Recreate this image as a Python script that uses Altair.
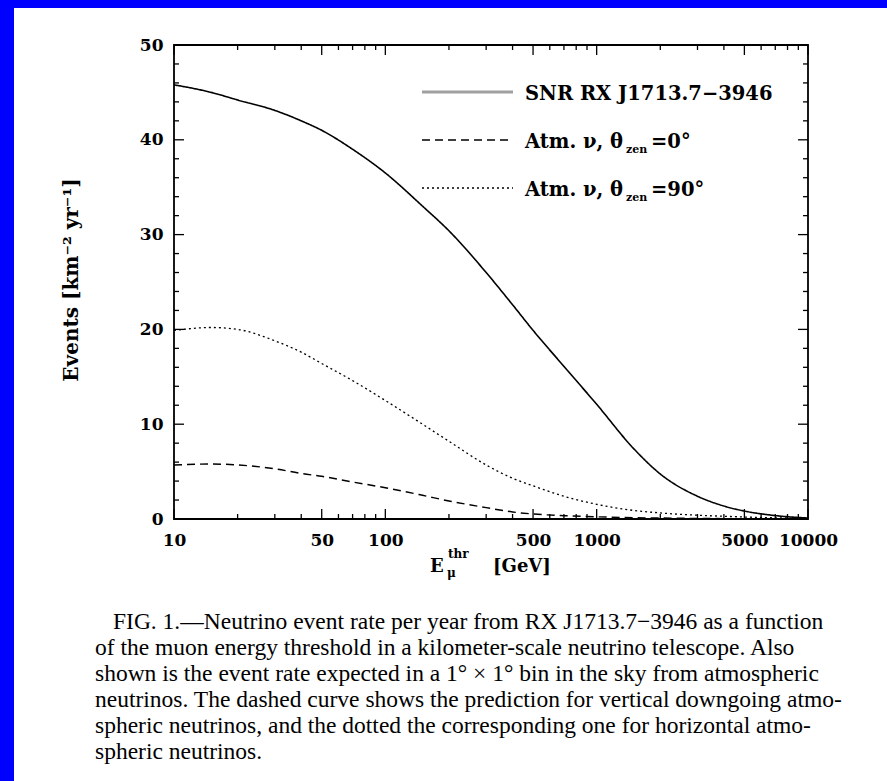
import altair as alt
import pandas as pd

# ---------------- data ----------------
energy = [10, 15, 20, 30, 40, 50, 70, 100, 150, 200, 300, 400, 500, 700,
          1000, 1500, 2000, 3000, 4000, 5000, 7000, 10000]
snr = [45.8, 45.0, 44.2, 43.1, 42.0, 41.0, 39.0, 36.5, 33.0, 30.4, 26.0, 22.6,
       19.9, 16.1, 12.1, 7.4, 4.75, 2.4, 1.37, 0.84, 0.36, 0.1]
atm90 = [19.9, 20.2, 20.0, 18.8, 17.6, 16.4, 14.6, 12.5, 10.0, 8.2, 5.7, 4.3,
         3.5, 2.4, 1.55, 0.9, 0.64, 0.4, 0.29, 0.21, 0.13, 0.07]
atm0 = [5.7, 5.8, 5.7, 5.3, 4.8, 4.5, 3.9, 3.3, 2.5, 1.9, 1.2, 0.74,
        0.53, 0.35, 0.23, 0.14, 0.1, 0.06, 0.04, 0.03, 0.02, 0.01]

series_names = ["snr", "atm0", "atm90"]
legend_main = ["SNR RX J1713.7\u22123946", "Atm. \u03bd, \u03b8", "Atm. \u03bd, \u03b8"]
legend_sub = ["", "zen", "zen"]
legend_tail = ["", "=0\u00b0", "=90\u00b0"]

x_major = [10, 50, 100, 500, 1000, 5000, 10000]
x_minor = [20, 30, 40, 60, 70, 80, 90, 200, 300, 400, 600, 700, 800, 900,
           2000, 3000, 4000, 6000, 7000, 8000, 9000]
y_major = [0, 10, 20, 30, 40, 50]
y_minor = [2, 4, 6, 8, 12, 14, 16, 18, 22, 24, 26, 28, 32, 34, 36, 38,
           42, 44, 46, 48]

caption_first = "FIG. 1.\u2014Neutrino event rate per year from RX J1713.7\u22123946 as a function"
caption_rest = [
    "of the muon energy threshold in a kilometer-scale neutrino telescope. Also",
    "shown is the event rate expected in a 1\u00b0 \u00d7 1\u00b0 bin in the sky from atmospheric",
    "neutrinos. The dashed curve shows the prediction for vertical downgoing atmo-",
    "spheric neutrinos, and the dotted the corresponding one for horizontal atmo-",
    "spheric neutrinos.",
]

# ---------------- layout ----------------
W, H = 634, 474
PAD = {"left": 174, "top": 45, "right": 79, "bottom": 262}
SERIF = "DejaVu Serif"
TIMES = "Liberation Serif"

xscale = alt.Scale(type="log", domain=[10, 10000])
yscale = alt.Scale(domain=[0, 50], nice=False, zero=False)
xaxis = alt.Axis(values=x_major, format="d", ticks=False, domain=False,
                 grid=False, labelFlush=False, labelOverlap=False,
                 labelPadding=13, labelFont=SERIF, labelFontSize=17,
                 labelFontWeight="bold", labelColor="black", title=None)
yaxis = alt.Axis(values=y_major, ticks=False, domain=False, grid=False,
                 labelFlush=False, labelOverlap=False, labelPadding=11,
                 labelFont=SERIF, labelFontSize=17, labelFontWeight="bold",
                 labelColor="black", title=None)

rows = []
for name, vals in zip(series_names, [snr, atm0, atm90]):
    for e, v in zip(energy, vals):
        rows.append({"E": e, "v": v, "s": name})
curves_df = pd.DataFrame(rows)

dash_scale = alt.Scale(domain=series_names, range=[[1, 0], [8, 5], [2, 3]])
width_scale = alt.Scale(domain=series_names, range=[1.6, 1.3, 1.3])

curves = alt.Chart(curves_df).mark_line(color="black", interpolate="monotone").encode(
    x=alt.X("E:Q", scale=xscale, axis=xaxis),
    y=alt.Y("v:Q", scale=yscale, axis=yaxis),
    strokeDash=alt.StrokeDash("s:N", scale=dash_scale, legend=None),
    strokeWidth=alt.StrokeWidth("s:N", scale=width_scale, legend=None),
    detail="s:N",
)

one = pd.DataFrame({"k": [0]})

# blue frame (top and left)
frame_left = alt.Chart(one).mark_rect(color="#0000ff").encode(
    x=alt.value(-PAD["left"]), x2=alt.value(-PAD["left"] + 14),
    y=alt.value(-PAD["top"]), y2=alt.value(H + PAD["bottom"]))
frame_top = alt.Chart(one).mark_rect(color="#0000ff").encode(
    x=alt.value(-PAD["left"]), x2=alt.value(W + PAD["right"]),
    y=alt.value(-PAD["top"]), y2=alt.value(-PAD["top"] + 8))

tick_layers = []
for vals, ln in [(x_major, 10), (x_minor, 5)]:
    d = pd.DataFrame({"E": vals})
    tick_layers.append(alt.Chart(d).mark_rule(color="black", strokeWidth=1.3).encode(
        x=alt.X("E:Q", scale=xscale, axis=xaxis), y=alt.value(H), y2=alt.value(H - ln)))
    tick_layers.append(alt.Chart(d).mark_rule(color="black", strokeWidth=1.3).encode(
        x=alt.X("E:Q", scale=xscale, axis=xaxis), y=alt.value(0), y2=alt.value(ln)))
for vals, ln in [(y_major, 10), (y_minor, 5)]:
    d = pd.DataFrame({"v": vals})
    tick_layers.append(alt.Chart(d).mark_rule(color="black", strokeWidth=1.3).encode(
        y=alt.Y("v:Q", scale=yscale, axis=yaxis), x=alt.value(0), x2=alt.value(ln)))
    tick_layers.append(alt.Chart(d).mark_rule(color="black", strokeWidth=1.3).encode(
        y=alt.Y("v:Q", scale=yscale, axis=yaxis), x=alt.value(W), x2=alt.value(W - ln)))

box = alt.Chart(one).mark_rect(fill=None, stroke="black", strokeWidth=1.8).encode(
    x=alt.value(0), x2=alt.value(W), y=alt.value(0), y2=alt.value(H))

# legend
leg_layers = []
leg_styles = [dict(color="#a0a0a0", strokeWidth=3),
              dict(color="black", strokeWidth=1.3, strokeDash=[8, 5]),
              dict(color="black", strokeWidth=1.3, strokeDash=[2, 3])]
for i in range(3):
    yl = 47 + 48 * i
    leg_layers.append(alt.Chart(one).mark_rule(**leg_styles[i]).encode(
        x=alt.value(248), x2=alt.value(339), y=alt.value(yl)))
    leg_layers.append(alt.Chart(one).mark_text(
        align="left", baseline="alphabetic", font=SERIF, fontSize=19.5,
        fontWeight="bold", color="black").encode(
        x=alt.value(351), y=alt.value(yl + 8), text=alt.value(legend_main[i])))
    if legend_sub[i]:
        leg_layers.append(alt.Chart(one).mark_text(
            align="left", baseline="alphabetic", font=SERIF, fontSize=11,
            fontWeight="bold", color="black").encode(
            x=alt.value(452), y=alt.value(yl + 13), text=alt.value(legend_sub[i])))
        leg_layers.append(alt.Chart(one).mark_text(
            align="left", baseline="alphabetic", font=SERIF, fontSize=19.5,
            fontWeight="bold", color="black").encode(
            x=alt.value(477), y=alt.value(yl + 8), text=alt.value(legend_tail[i])))

# axis titles
title_layers = [
    alt.Chart(one).mark_text(angle=270, align="center", baseline="middle",
                             font=SERIF, fontSize=20, fontWeight="bold",
                             color="black").encode(
        x=alt.value(-102), y=alt.value(235),
        text=alt.value("Events [km\u207b\u00b2 yr\u207b\u00b9]")),
    alt.Chart(one).mark_text(align="left", baseline="alphabetic", font=SERIF,
                             fontSize=18, fontWeight="bold", color="black").encode(
        x=alt.value(256), y=alt.value(527), text=alt.value("E")),
    alt.Chart(one).mark_text(align="left", baseline="alphabetic", font=SERIF,
                             fontSize=12, fontWeight="bold", color="black").encode(
        x=alt.value(273), y=alt.value(532), text=alt.value("\u03bc")),
    alt.Chart(one).mark_text(align="left", baseline="alphabetic", font=SERIF,
                             fontSize=12, fontWeight="bold", color="black").encode(
        x=alt.value(274), y=alt.value(513), text=alt.value("thr")),
    alt.Chart(one).mark_text(align="left", baseline="alphabetic", font=SERIF,
                             fontSize=18, fontWeight="bold", color="black").encode(
        x=alt.value(319), y=alt.value(527), text=alt.value("[GeV]")),
]

caption_layers = [
    alt.Chart(one).mark_text(align="left", baseline="alphabetic", font=TIMES,
                             fontSize=23.5, color="black").encode(
        x=alt.value(-61), y=alt.value(584), text=alt.value(caption_first)),
    alt.Chart(one).mark_text(align="left", baseline="alphabetic", font=TIMES,
                             fontSize=23.5, lineHeight=26, color="black").encode(
        x=alt.value(-79), y=alt.value(610), text=alt.value(caption_rest)),
]

chart = alt.layer(
    frame_left, frame_top, curves, *tick_layers, box, *leg_layers,
    *title_layers, *caption_layers
).properties(
    width=W, height=H, padding=PAD,
    autosize=alt.AutoSizeParams(type="none"),
    background="white",
).configure_view(stroke=None)

chart.save("out.html", embed_options={"renderer": "svg", "actions": False})
